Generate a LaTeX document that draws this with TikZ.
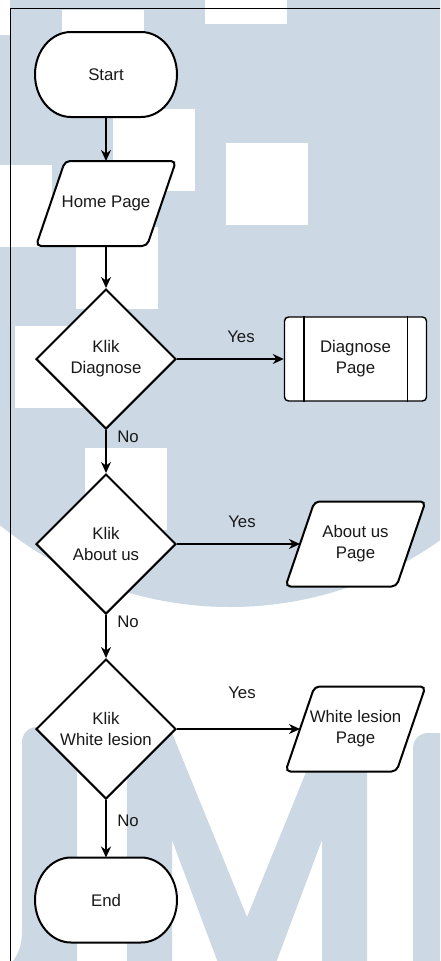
\documentclass[tikz,border=0pt]{standalone}
\usepackage{fontspec}
\setmainfont{Liberation Sans}
\usetikzlibrary{shapes.geometric,arrows.meta}
\pgfdeclarelayer{back}
\pgfdeclarelayer{outline}
\pgfsetlayers{back,outline,main}
\definecolor{wm}{RGB}{204,216,227}
\definecolor{ink}{RGB}{25,25,25}

\tikzset{
  lbl/.style={font=\fontsize{16.8pt}{21pt}\selectfont, text=ink, align=center, inner sep=0pt},
  term/.style={lbl, minimum width=142pt, minimum height=85pt, outer sep=0pt},
  io/.style={lbl, minimum width=111pt, minimum height=85pt, outer sep=0pt},
  decision/.style={lbl, diamond, draw=black, fill=white, line width=2pt,
    minimum width=140pt, minimum height=140pt, aspect=1},
  proc/.style={lbl, draw=black, fill=white, line width=1.4pt, rounded corners=4pt,
    minimum width=142pt, minimum height=84pt},
  edge/.style={line width=1.4pt, -{Stealth[length=11pt, width=10pt, inset=3.5pt]}},
  outl/.style={draw=black, fill=white, line width=2pt},
}

% outline of a terminator (start / end) around a named node
\newcommand\termpath[1]{%
  \draw[outl] ([xshift=36pt]#1.north west) -- ([xshift=-36pt]#1.north east)
    arc[start angle=90,end angle=-90,x radius=36pt,y radius=42.5pt]
    -- ([xshift=36pt]#1.south west)
    arc[start angle=270,end angle=90,x radius=36pt,y radius=42.5pt] -- cycle;}
% outline of a data (parallelogram) box around a named node
\newcommand\iopath[1]{%
  \draw[outl,rounded corners=5pt] ([xshift=14.5pt]#1.north west)
    -- ([xshift=14.5pt]#1.north east) -- ([xshift=-14.5pt]#1.south east)
    -- ([xshift=-14.5pt]#1.south west) -- cycle;}

\begin{document}
\begin{tikzpicture}[x=1pt,y=-1pt]
\useasboundingbox (0,0) rectangle (440,961);

% background logo
\begin{pgfonlayer}{back}
\begin{scope}
  \clip (0,0) rectangle (440,961);
  \fill[white] (0,0) rectangle (440,961);
  \fill[wm] (230,243) circle[radius=364pt];
  \foreach \x/\y in {205/-58, 62/10, -30/165, 15/326, 76/227, 113/109, 226/143, -72/-47, 85/448}
    \fill[white] (\x,\y) rectangle ++(82,82);
  % U
  \fill[wm] (77,727) -- (77,1000) -- (-40,1000) -- (0,972)
    .. controls (16,962) and (22,950) .. (22,930) -- (22,742)
    arc[start angle=180,end angle=90,radius=15pt] -- cycle;
  % M
  \fill[wm] (127,1000) -- (127,733) -- (172,733) -- (247,917) -- (322,733)
    -- (367,733) -- (367,1000) -- (322,1000) -- (322,840) -- (262,1000)
    -- (232,1000) -- (172,840) -- (172,1000) -- cycle;
  % N
  \fill[wm] (465,733) -- (465,1000) -- (413,1000) -- (413,748)
    arc[start angle=180,end angle=90,radius=15pt] -- cycle;
  % frame
  \draw[line width=1pt] (10.5,1000) -- (10.5,8) -- (460,8);
\end{scope}
\end{pgfonlayer}

% nodes
\node[term] (start) at (106,74.5) {Start};
\node[io] (home) at (106,203.5) {Home Page};
\node[decision] (qdiag) at (106,359) {Klik\\Diagnose};
\node[proc] (pdiag) at (355.5,359) {Diagnose\\Page};
\node[decision] (qabout) at (106,544) {Klik\\About us};
\node[io] (pabout) at (355.5,544) {About us\\Page};
\node[decision] (qwhite) at (106,729) {Klik\\White lesion};
\node[io] (pwhite) at (355.5,729) {White lesion\\Page};
\node[term] (stop) at (106,900) {End};

\draw[line width=1.4pt]
  ([xshift=20pt]pdiag.north west) -- ([xshift=20pt]pdiag.south west)
  ([xshift=-20pt]pdiag.north east) -- ([xshift=-20pt]pdiag.south east);

\begin{pgfonlayer}{outline}
  \termpath{start}
  \termpath{stop}
  \iopath{home}
  \iopath{pabout}
  \iopath{pwhite}
\end{pgfonlayer}

% labels
\node[lbl] (yes1) at (241,337) {Yes};
\node[lbl] (no1) at (128,437) {No};
\node[lbl] (yes2) at (242,522) {Yes};
\node[lbl] (no2) at (128,622) {No};
\node[lbl] (yes3) at (242,693) {Yes};
\node[lbl] (no3) at (128,821) {No};

% connectors
\draw[edge] (start.south) -- (home.north);
\draw[edge] (home.south) -- (qdiag.north);
\draw[edge] (qdiag.east) -- (pdiag.west);
\draw[edge] (qdiag.south) -- (qabout.north);
\draw[edge] (qabout.east) -- (pabout.west);
\draw[edge] (qabout.south) -- (qwhite.north);
\draw[edge] (qwhite.east) -- (pwhite.west);
\draw[edge] (qwhite.south) -- (stop.north);
\end{tikzpicture}
\end{document}
